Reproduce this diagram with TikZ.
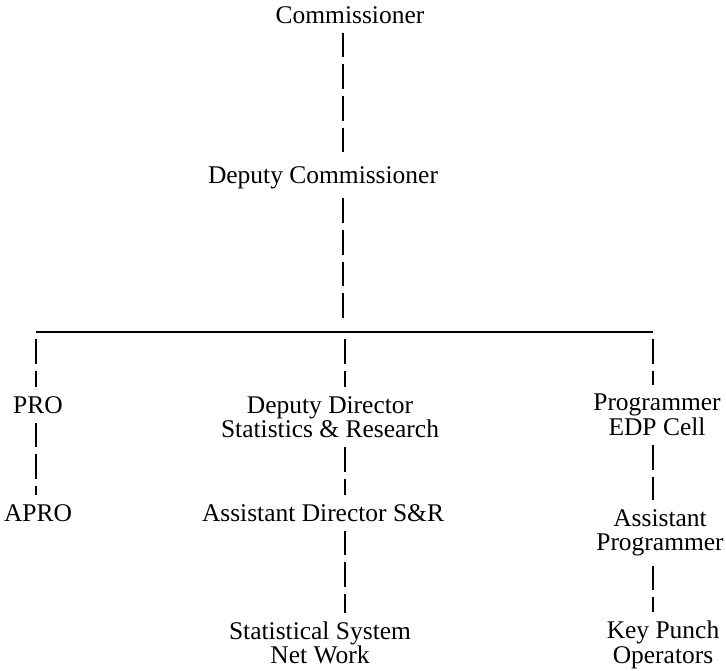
\documentclass[tikz,border=0pt]{standalone}
\usepackage{fontspec}
\setmainfont{Liberation Serif}

\tikzset{
  post/.style={inner sep=1pt, align=center, font=\fontsize{14.5}{14}\selectfont},
  link/.style={black, line width=0.9pt, dash pattern=on 14pt off 4pt},
  bus/.style={black, line width=0.9pt}
}

\begin{document}
\begin{tikzpicture}[x=0.02cm, y=-0.02cm]
            \useasboundingbox (0,0) rectangle (726,670);

            % posts
            \node[post] (com)   at (350,15)  {Commissioner};
            \node[post] (dep)   at (323,178) {Deputy Commissioner};
            \node[post] (pro)   at (38,405)  {PRO};
            \node[post] (apro)  at (38,513)  {APRO};
            \node[post] (ddir)  at (330,417) {Deputy Director\\Statistics \& Research};
            \node[post] (adir)  at (323,513) {Assistant Director S\&R};
            \node[post] (ssn)   at (320,643) {Statistical System\\Net Work};
            \node[post] (prog)  at (657,415) {Programmer\\EDP Cell};
            \node[post] (aprog) at (660,533) {Assistant\\Programmer};
            \node[post] (kpo)   at (663,645) {Key Punch\\Operators};

            % x of the lines
            \coordinate (trunk) at (343,0);
            \coordinate (mid)   at (345,0);
            \coordinate (busL)  at (36,332);
            \coordinate (busR)  at (653,332);

            \draw[link] ([yshift=-4pt]com.south -| trunk) -- ([yshift=4pt]dep.north -| trunk);
            \draw[link] ([yshift=-4pt]dep.south -| trunk) -- ([yshift=6pt]trunk |- busL);

            \draw[bus] (busL) -- (busR);
            \draw[link] ([yshift=-4pt]busL) -- ([yshift=4pt]pro.north -| busL);
            \draw[link] ([yshift=-4pt]mid |- busL) -- ([yshift=4pt]ddir.north -| mid);
            \draw[link] ([yshift=-4pt]busR) -- ([yshift=4pt]prog.north -| busR);

            \draw[link] ([yshift=-4pt]pro.south -| busL) -- ([yshift=4pt]apro.north -| busL);
            \draw[link] ([yshift=-4pt]ddir.south -| mid) -- ([yshift=4pt]adir.north -| mid);
            \draw[link] ([yshift=-4pt]adir.south -| mid) -- ([yshift=4pt]ssn.north -| mid);
            \draw[link] ([yshift=-4pt]prog.south -| busR) -- ([yshift=4pt]aprog.north -| busR);
            \draw[link] ([yshift=-4pt]aprog.south -| busR) -- ([yshift=4pt]kpo.north -| busR);
        \end{tikzpicture}
\end{document}
